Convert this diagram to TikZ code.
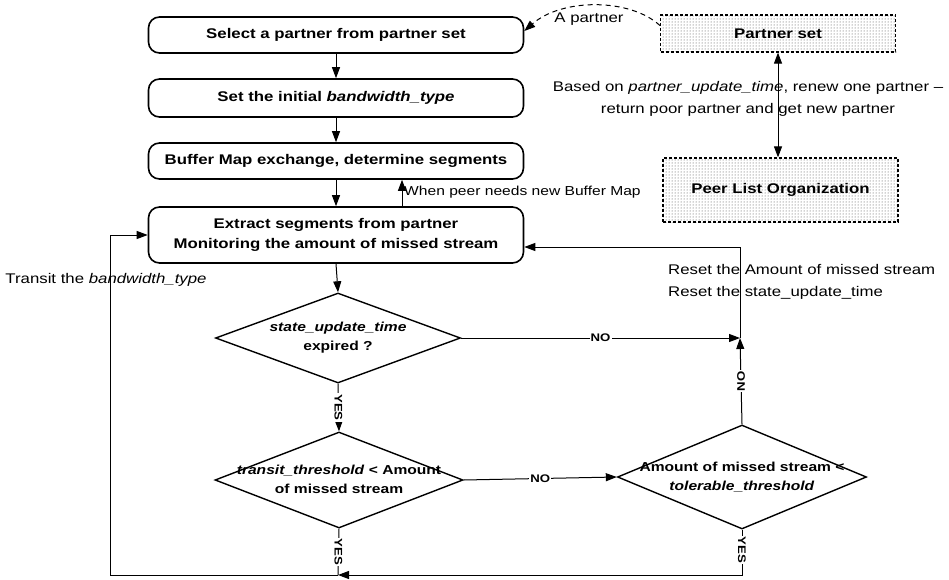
\documentclass[tikz,border=0pt]{standalone}
\usepackage{fontspec}
\setmainfont{Liberation Sans}[FakeStretch=1.2]
\usetikzlibrary{arrows.meta,shapes.geometric,patterns}
\begin{document}
\begin{tikzpicture}[x=1pt,y=-1pt,
  box/.style={draw, line width=1.6pt, rounded corners=11pt, minimum width=375pt,
    minimum height=36pt, align=center, inner sep=0pt,
    font=\fontsize{14}{20}\selectfont\bfseries},
  dec/.style={draw, diamond, line width=1.4pt, inner sep=0pt},
  dtext/.style={align=center, font=\fontsize{13}{19}\selectfont\bfseries},
  side/.style={draw, line width=1.2pt, dash pattern=on 3pt off 2pt,
    pattern=dots, pattern color=black!75, minimum width=235pt, inner sep=0pt,
    font=\fontsize{14}{17}\selectfont\bfseries},
  tip/.tip={Triangle[length=11pt,width=8pt]},
  arr/.style={-tip, line width=1pt},
  plain/.style={line width=1pt},
  yn/.style={fill=white, inner sep=1pt, font=\fontsize{11}{13}\selectfont\bfseries},
  note/.style={inner sep=0pt, font=\fontsize{14}{22}\selectfont},
]
\useasboundingbox (0,0) rectangle (949,580);

% left column boxes
\node[box] (b1) at (336,35) {Select a partner from partner set};
\node[box, minimum height=38pt] (b2) at (336,98) {Set the initial \textit{bandwidth\_type}};
\node[box] (b3) at (336,161) {Buffer Map exchange, determine segments};
\node[box, minimum height=56pt] (b4) at (336,235) {Extract segments from partner\\Monitoring the amount of missed stream};

% decisions
\node[dec, minimum width=245pt, minimum height=90pt] (d1) at (338,338) {};
\node[dtext] (t1) at (338,338) {\textit{state\_update\_time}\\expired ?};
\node[dec, minimum width=248pt, minimum height=96pt] (d2) at (339,480) {};
\node[dtext] (t2) at (339,479) {\textit{transit\_threshold} < Amount\\of missed stream};
\node[dec, minimum width=249pt, minimum height=104pt] (d3) at (742,477) {};
\node[dtext] (t3) at (742,477) {Amount of missed stream <\\\textit{tolerable\_threshold}};

% right boxes
\node[side, minimum height=37pt] (ps) at (778,33.5) {Partner set};
\node[side, minimum height=64pt] (pl) at (780.5,190) {Peer List Organization};

% helper coordinates
\coordinate (rj) at (740,338);
\coordinate (jn) at (338,575);
\coordinate (lb) at (110,575);
\coordinate (b4e) at ([yshift=-12pt]b4.east);

% main flow
\draw[arr] (b1.south) -- (b2.north);
\draw[arr] (b2.south) -- (b3.north);
\draw[arr] (b3.south) -- (b4.north);
\draw[arr] ([xshift=66pt]b4.north) -- ([xshift=66pt]b3.south);
\node[note, anchor=west, font=\fontsize{13}{16}\selectfont] (wl) at (404,192) {When peer needs new Buffer Map};
\draw[arr] (b4.south) -- (d1.north);

\draw[arr] (d1.south) -- (d2.north) node[midway, yn, rotate=-90] {YES};
\draw[arr] (d1.east) -- (rj) node[midway, yn] {NO};
\draw[arr] (d2.east) -- (d3.west) node[midway, yn] {NO};
\draw[arr] (d3.north) -- (rj) node[midway, yn, rotate=90] {NO};
\draw[arr] (rj) -- (rj |- b4e) -- (b4e);
\node[note, anchor=west, align=left] (rs) at (668,282) {Reset the Amount of missed stream\\Reset the state\_update\_time};

\draw[plain] (d2.south) -- (jn) node[pos=0.5, yn, rotate=-90] {YES};
\draw[arr] (d3.south) -- (d3.south |- jn) node[pos=0.45, yn, rotate=-90] {YES} -- (jn);
\draw[arr] (jn) -- (lb) -- (lb |- b4.west) -- (b4.west);
\node[note] (tr) at (106,280) {Transit the \textit{bandwidth\_type}};

% partner exchange
\draw[line width=1pt, dash pattern=on 5pt off 4pt, -tip]
  ([yshift=8pt]ps.west) .. controls (630,-2) and (562,-2) .. ([yshift=4pt]b1.east);
\node[note] (ap) at (589,19) {A partner};
\draw[line width=1pt, tip-tip]
  (ps.south) -- (ps.south |- pl.north);
\node[note, align=center] (bo) at (748,99) {Based on \textit{partner\_update\_time}, renew one partner –\\return poor partner and get new partner};
\end{tikzpicture}
\end{document}
